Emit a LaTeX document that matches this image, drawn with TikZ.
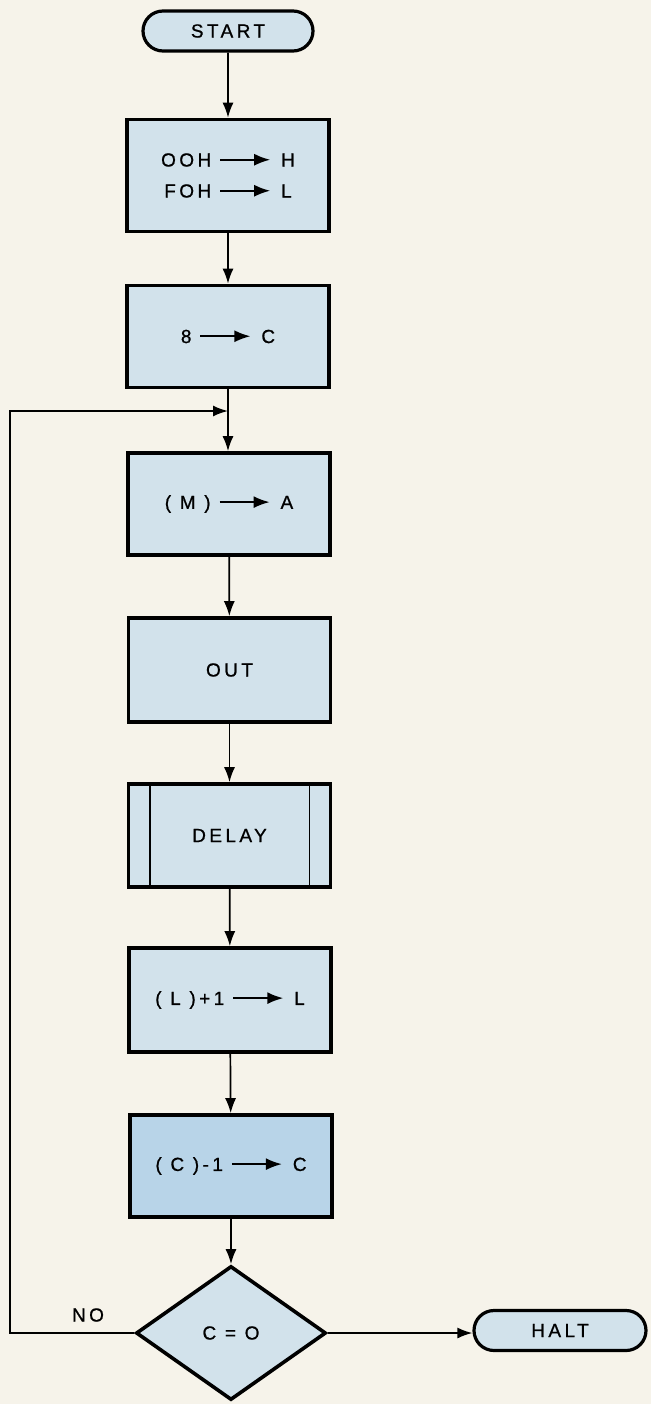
\documentclass[tikz,border=0pt]{standalone}
\usepackage{fontspec}
\setmainfont{Liberation Sans}[LetterSpace=18,FakeBold=0.8]
\usetikzlibrary{arrows.meta,shapes.geometric,shapes.misc}
\definecolor{paper}{HTML}{F6F3EA}
\definecolor{boxfill}{HTML}{D2E2EB}
\definecolor{boxdark}{HTML}{B8D4E8}
\newcommand{\ar}{\hspace{8pt}\tikz[baseline=0pt]{\draw[line width=1.9pt,-{Latex[length=16pt,width=12pt]}] (0pt,6.8pt) -- (50pt,6.8pt);}\hspace{10pt}}
\begin{document}
\begin{tikzpicture}[x=1pt,y=-1pt,
  lbl/.style={font=\fontsize{19}{31}\selectfont, align=center},
  proc/.style={lbl, draw=black, line width=3.6pt, fill=boxfill, minimum width=202pt, minimum height=102pt, inner sep=0pt},
  term/.style={lbl, rounded rectangle, draw=black, line width=3.2pt, fill=boxfill, minimum height=40pt, inner sep=0pt},
  decide/.style={lbl, diamond, draw=black, line width=3.6pt, fill=boxfill, minimum width=190pt, minimum height=134pt, inner sep=0pt},
  conn/.style={line width=1.7pt, -{Latex[length=15pt,width=11pt]}},
  plain/.style={line width=1.7pt}]
\fill[paper] (0,0) rectangle (651,1404);
\useasboundingbox (0,0) rectangle (651,1404);

\node[term, minimum width=170pt] (start) at (228,31) {START};
\node[proc, minimum height=112pt] (b1) at (228,175.5) {OOH\ar H\\FOH\ar L};
\node[proc] (b2) at (228,336.5) {8\ar C};
\node[proc] (b3) at (229,504) {( M )\ar A};
\node[proc, minimum height=104pt] (b4) at (229.5,670) {OUT};
\node[proc, minimum height=103pt] (b5) at (229.5,835.5) {DELAY};
\node[proc, minimum height=104pt] (b6) at (230,1000) {( L )+1\ar L};
\node[proc, fill=boxdark] (b7) at (231,1166) {( C )-1\ar C};
\node[decide] (dia) at (231,1333) {C = O};
\node[term, minimum width=172pt] (halt) at (560,1330.5) {HALT};
\node[lbl] (no) at (88,1315) {NO};

\draw[line width=1.6pt] ([xshift=23pt]b5.north west) -- ([xshift=23pt]b5.south west);
\draw[line width=1.6pt] ([xshift=-23pt]b5.north east) -- ([xshift=-23pt]b5.south east);

\coordinate (j) at (b2.south |- 0,411);
\coordinate (lx) at (10,0);

\draw[conn] (start) -- (b1);
\draw[conn] (b1) -- (b2);
\draw[plain] (b2.south) -- (j);
\draw[conn] (j) -- (j |- b3.north);
\draw[conn] (b3) -- (b4);
\draw[conn] (b4) -- (b5);
\draw[conn] (b5) -- (b6);
\draw[conn] (b6) -- (b7);
\draw[conn] (b7.south) -- (b7.south |- dia.north);
\draw[conn] (dia.east) -- (halt.west |- dia.east);
\draw[conn] (dia.west) -- (lx |- dia.west) -- (lx |- j) -- (j);
\end{tikzpicture}
\end{document}
